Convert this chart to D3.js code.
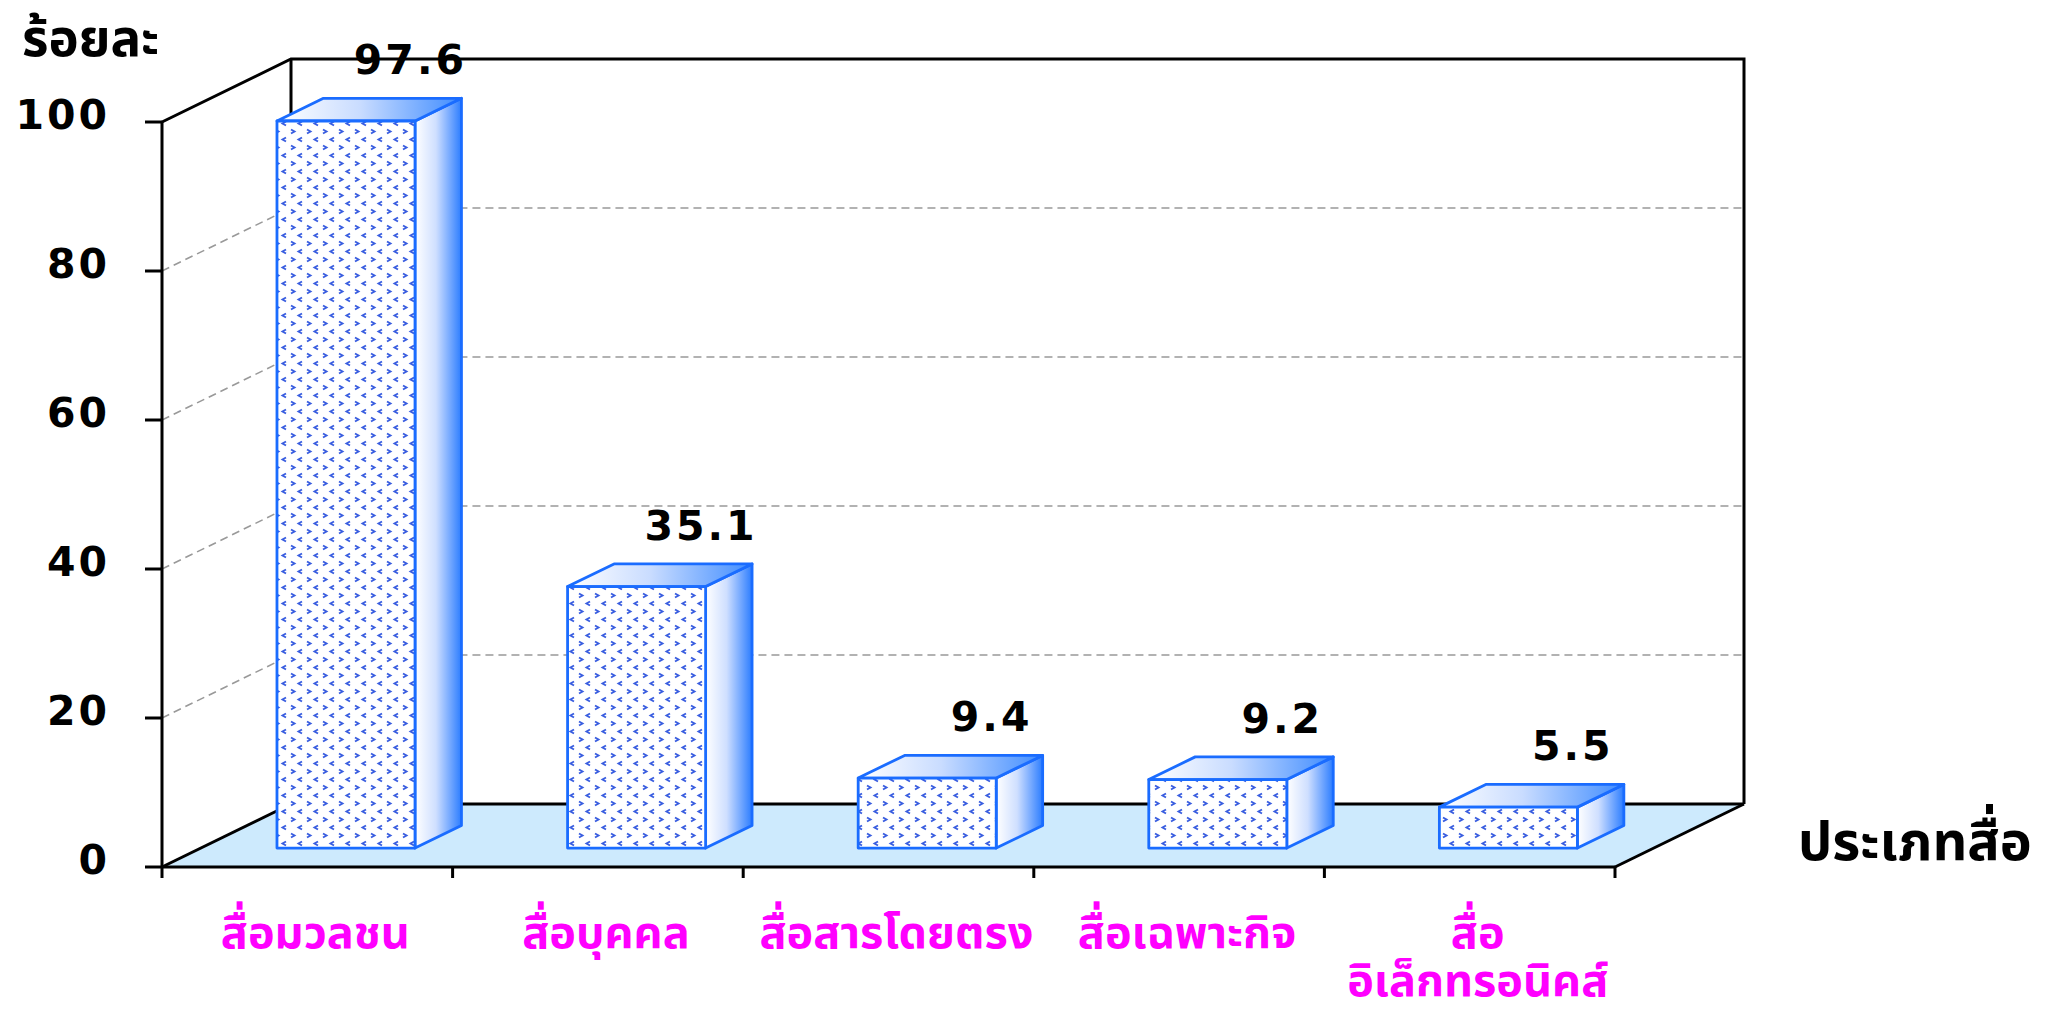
<!DOCTYPE html>
<html>
<head>
<meta charset="utf-8">
<script src="https://cdn.jsdelivr.net/npm/d3@7"></script>
<style>
  body { margin: 0; background: #fff; }
  .num { font-family: "DejaVu Sans", Verdana, sans-serif; font-weight: bold; }
  .thai { font-family: "Noto Sans Thai", "Noto Sans Thai Looped", Loma, Garuda, "Tlwg Typo", sans-serif; font-weight: bold; }
</style>
</head>
<body>
<script>
// data
const categories = [["สื่อมวลชน"], ["สื่อบุคคล"], ["สื่อสารโดยตรง"], ["สื่อเฉพาะกิจ"], ["สื่อ", "อิเล็กทรอนิคส์"]];
const values = [97.6, 35.1, 9.4, 9.2, 5.5];
const yTicks = [0, 20, 40, 60, 80, 100];
const gridValues = [20, 40, 60, 80];
const yTitle = "ร้อยละ";
const xTitle = "ประเภทสื่อ";

const width = 2064, height = 1019;

// plot frame (front plane)
const x0 = 162, x1 = 1615;
const depthX = 129, depthY = -63;   // full depth of the box
const barZ0 = 0.30, barZ1 = 0.66;   // bar front / back depth fraction

const svg = d3.select("body").append("svg")
    .attr("width", width)
    .attr("height", height);

const y = d3.scaleLinear().domain([0, 100]).range([867, 122]);
const xBand = d3.scaleBand()
    .domain(d3.range(categories.length))
    .range([x0, x1])
    .paddingInner(0.525)
    .paddingOuter(0.2625);
const xCat = d3.scaleBand()
    .domain(d3.range(categories.length))
    .range([x0, x1]);

// project a front-plane point back by fraction z
const P = (px, py, z) => [px + z * depthX, py + z * depthY];
const pts = arr => arr.map(p => p.join(",")).join(" ");

const defs = svg.append("defs");

const pat = defs.append("pattern")
    .attr("id", "chev")
    .attr("patternUnits", "userSpaceOnUse")
    .attr("width", 16).attr("height", 16);
pat.append("rect").attr("width", 16).attr("height", 16).attr("fill", "#fff");
pat.append("path").attr("d", "M3,1.5 L6.5,3.5 L3,5.5").attr("fill", "none")
    .attr("stroke", "#3a5ee0").attr("stroke-width", 1.9);
pat.append("path").attr("d", "M14,9.5 L10.5,11.5 L14,13.5").attr("fill", "none")
    .attr("stroke", "#3a5ee0").attr("stroke-width", 1.9);

const gTop = defs.append("linearGradient").attr("id", "gTop");
gTop.append("stop").attr("offset", "0%").attr("stop-color", "#ffffff");
gTop.append("stop").attr("offset", "45%").attr("stop-color", "#c9dcff");
gTop.append("stop").attr("offset", "100%").attr("stop-color", "#3f8cff");

const gSide = defs.append("linearGradient").attr("id", "gSide");
gSide.append("stop").attr("offset", "0%").attr("stop-color", "#ffffff");
gSide.append("stop").attr("offset", "45%").attr("stop-color", "#cfdfff");
gSide.append("stop").attr("offset", "100%").attr("stop-color", "#2c7dff");

const y0 = y(0), yMax = y(100);
const backL = P(x0, y0, 1), backR = P(x1, y0, 1);

// floor
svg.append("polygon")
    .attr("points", pts([[x0, y0], [x1, y0], backR, backL]))
    .attr("fill", "#cdeafd");

// grid lines: side wall + back wall
gridValues.forEach(v => {
  const a = [x0, y(v)], b = P(x0, y(v), 1), c = P(x1, y(v), 1);
  svg.append("polyline")
      .attr("points", pts([a, b, c]))
      .attr("fill", "none")
      .attr("stroke", "#999")
      .attr("stroke-width", 1.6)
      .attr("stroke-dasharray", "8,5");
});

// box outline
const frame = svg.append("g").attr("stroke", "#000").attr("stroke-width", 3).attr("fill", "none");
const topL = P(x0, yMax, 1), topR = P(x1, yMax, 1);
frame.append("polyline").attr("points", pts([[x0, yMax], topL, topR, backR]));
frame.append("line").attr("x1", topL[0]).attr("y1", topL[1]).attr("x2", backL[0]).attr("y2", backL[1]);
frame.append("line").attr("x1", backL[0]).attr("y1", backL[1]).attr("x2", backR[0]).attr("y2", backR[1]);
frame.append("polyline").attr("points", pts([[x0, y0], backL]));
frame.append("polyline").attr("points", pts([[x1, y0], backR]));
frame.append("line").attr("x1", x0).attr("y1", y0).attr("x2", x1).attr("y2", y0);
frame.append("line").attr("x1", x0).attr("y1", yMax).attr("x2", x0).attr("y2", y0);

// y ticks + labels
yTicks.forEach(v => {
  svg.append("line")
      .attr("x1", x0 - 17).attr("x2", x0)
      .attr("y1", y(v)).attr("y2", y(v))
      .attr("stroke", "#000").attr("stroke-width", 3);
  svg.append("text")
      .attr("class", "num")
      .attr("x", 110).attr("y", y(v) + 7)
      .attr("text-anchor", "end")
      .attr("font-size", 41)
      .attr("letter-spacing", 3)
      .text(v);
});

// x ticks
d3.range(categories.length + 1).forEach(i => {
  const xt = x0 + i * xCat.step();
  svg.append("line")
      .attr("x1", xt).attr("x2", xt)
      .attr("y1", y0).attr("y2", y0 + 11)
      .attr("stroke", "#000").attr("stroke-width", 3);
});

// bars
values.forEach((v, i) => {
  const bx = xBand(i), bw = xBand.bandwidth();
  const fbl = P(bx, y0, barZ0), fbr = P(bx + bw, y0, barZ0);
  const ftl = P(bx, y(v), barZ0), ftr = P(bx + bw, y(v), barZ0);
  const btl = P(bx, y(v), barZ1), btr = P(bx + bw, y(v), barZ1);
  const bbr = P(bx + bw, y0, barZ1);
  const g = svg.append("g")
      .attr("stroke", "#1a6cff")
      .attr("stroke-width", 2.8)
      .attr("stroke-linejoin", "round");
  // side
  g.append("polygon").attr("points", pts([ftr, btr, bbr, fbr])).attr("fill", "url(#gSide)");
  // top
  g.append("polygon").attr("points", pts([ftl, btl, btr, ftr])).attr("fill", "url(#gTop)");
  // front
  g.append("polygon").attr("points", pts([ftl, ftr, fbr, fbl])).attr("fill", "url(#chev)");

  // value label
  svg.append("text")
      .attr("class", "num")
      .attr("x", (btl[0] + btr[0]) / 2 + 18)
      .attr("y", btl[1] - 24)
      .attr("text-anchor", "middle")
      .attr("font-size", 41)
      .attr("letter-spacing", 3)
      .text(v);
});

// category labels
categories.forEach((lines, i) => {
  const cx = xCat(i) + xCat.step() / 2 + 8;
  const t = svg.append("text")
      .attr("class", "thai")
      .attr("text-anchor", "middle")
      .attr("fill", "#ff00ff")
      .attr("font-size", 45);
  lines.forEach((s, k) => {
    t.append("tspan").attr("x", cx).attr("y", 948 + k * 48).text(s);
  });
});

// axis titles
svg.append("text")
    .attr("class", "thai")
    .attr("x", 22).attr("y", 56)
    .attr("font-size", 51)
    .text(yTitle);
svg.append("text")
    .attr("class", "thai")
    .attr("x", 1798).attr("y", 860)
    .attr("font-size", 54)
    .text(xTitle);
</script>
</body>
</html>
